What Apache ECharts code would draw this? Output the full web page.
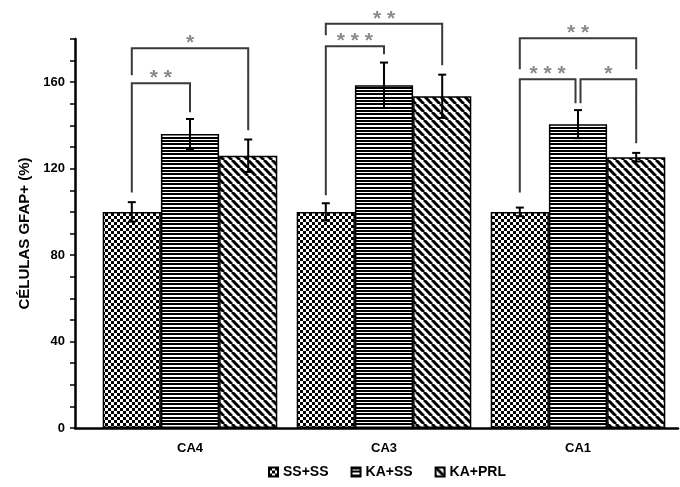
<!DOCTYPE html>
<html>
<head>
<meta charset="utf-8">
<script src="https://cdn.jsdelivr.net/npm/echarts@6/dist/echarts.min.js"></script>
<style>html,body{margin:0;padding:0;background:#fff;}#c{width:680px;height:487px;}</style>
</head>
<body>
<div id="c"></div>
<script>
// ---- data ----
var categories = ['CA4', 'CA3', 'CA1'];
var seriesNames = ['SS+SS', 'KA+SS', 'KA+PRL'];
var ssValues = [100, 100, 100];
var ssErrors = [4.5, 4, 2];
var kaSsValues = [136, 158.6, 140.6];
var kaSsErrors = [7, 10.5, 6.5];
var kaPrlValues = [126, 153.5, 125.3];
var kaPrlErrors = [7.5, 10, 2];
var yTickLabels = [0, 40, 80, 120, 160];
// significance brackets: [category, fromSeries, toSeries, topLevel, leftLegEnd, rightLegEnd]
var bracketLevels = [
  [0, 0, 2, 175.7, 163.2, 137.8],
  [0, 0, 1, 159.5, 109, 146.1],
  [1, 0, 2, 187, 181.7, 167.9],
  [1, 0, 1, 176.6, 107.7, 173],
  [2, 0, 2, 180.3, 166, 166],
  [2, 0, 1, 161.4, 109, 150.3],
  [2, 1, 2, 161.4, 150.3, 131.8]
];
var bracketStars = ['*', '**', '**', '***', '**', '***', '*'];

// ---- patterns ----
function mkCanvas(w, h) { var c = document.createElement('canvas'); c.width = w; c.height = h; return c; }
var checker = mkCanvas(6, 6);
(function () { var g = checker.getContext('2d'); g.fillStyle = '#fff'; g.fillRect(0, 0, 6, 6); g.fillStyle = '#000'; g.fillRect(0, 0, 3, 3); g.fillRect(3, 3, 3, 3); })();
var hstripe = mkCanvas(4, 10);
(function () { var g = hstripe.getContext('2d'); g.fillStyle = '#fff'; g.fillRect(0, 0, 4, 10); g.fillStyle = '#000'; [0, 1, 3, 4, 7, 8].forEach(function (r) { g.fillRect(0, r, 4, 1); }); })();
var diag = mkCanvas(8, 8);
(function () { var g = diag.getContext('2d'); g.fillStyle = '#fff'; g.fillRect(0, 0, 8, 8); g.strokeStyle = '#000'; g.lineWidth = 3; [-8, 0, 8].forEach(function (x0) { g.beginPath(); g.moveTo(x0, 0); g.lineTo(x0 + 8, 8); g.stroke(); }); })();
var patterns = [checker, hstripe, diag];

var FONT = 'Liberation Sans, Arial, sans-serif';
var GAP = 0.1;
var valuesList = [ssValues, kaSsValues, kaPrlValues];
var errorsList = [ssErrors, kaSsErrors, kaPrlErrors];

function barOffset(api, s) {
  var bw = api.size([1, 0])[0] * (1 - GAP) / 3;
  return { dx: (s - 1) * bw, bw: bw };
}

var series = [];
seriesNames.forEach(function (name, s) {
  series.push({
    name: name, type: 'bar', xAxisIndex: 1, yAxisIndex: 1,
    barGap: 0, barCategoryGap: (GAP * 100) + '%',
    data: valuesList[s],
    itemStyle: { color: { image: patterns[s], repeat: 'repeat' }, borderColor: '#000', borderWidth: 1.5 },
    z: 2
  });
});
seriesNames.forEach(function (name, s) {
  series.push({
    type: 'custom', xAxisIndex: 1, yAxisIndex: 1, z: 5, silent: true,
    data: categories.map(function (c, i) { return [i, valuesList[s][i], errorsList[s][i]]; }),
    encode: { x: 0, y: 1 },
    renderItem: function (params, api) {
      var c = api.value(0), v = api.value(1), e = api.value(2);
      var o = barOffset(api, s);
      var t = api.coord([c, v + e]), b = api.coord([c, v - e]);
      var x = t[0] + o.dx;
      var st = { stroke: '#000', lineWidth: 2 };
      return { type: 'group', children: [
        { type: 'line', shape: { x1: x, y1: t[1], x2: x, y2: b[1] }, style: st },
        { type: 'line', shape: { x1: x - 4, y1: t[1], x2: x + 4, y2: t[1] }, style: st },
        { type: 'line', shape: { x1: x - 4, y1: b[1], x2: x + 4, y2: b[1] }, style: st }
      ] };
    }
  });
});

function sharedNudge(idx, cat, ser, top) {
  for (var j = 0; j < bracketLevels.length; j++) {
    if (j === idx) continue;
    var b = bracketLevels[j];
    if (b[0] === cat && b[3] === top) {
      if (b[1] === ser) return -1;
      if (b[2] === ser) return 1;
    }
  }
  return 0;
}

series.push({
  type: 'custom', xAxisIndex: 1, yAxisIndex: 1, z: 6, silent: true, clip: false,
  data: bracketLevels.map(function (b, i) { return b.concat([i]); }),
  encode: { x: 0, y: 3 },
  renderItem: function (params, api) {
    var c = api.value(0), sf = api.value(1), stt = api.value(2), top = api.value(3), lb = api.value(4), rb = api.value(5), idx = api.value(6);
    var of = barOffset(api, sf), ot = barOffset(api, stt);
    var pTop = api.coord([c, top]);
    var xl = pTop[0] + of.dx + 2.5 * sharedNudge(idx, c, sf, top);
    var xr = pTop[0] + ot.dx + 2.5 * sharedNudge(idx, c, stt, top);
    var yl = api.coord([c, lb])[1], yr = api.coord([c, rb])[1];
    return { type: 'group', children: [
      { type: 'polyline', shape: { points: [[xl, yl], [xl, pTop[1]], [xr, pTop[1]], [xr, yr]] }, style: { stroke: '#3a3a3a', lineWidth: 2, fill: null } },
      { type: 'text', x: (xl + xr) / 2, y: pTop[1] - 5, style: { text: bracketStars[idx].split('').join(' '), fill: '#8a8a8a', font: 'bold 21px ' + FONT, textAlign: 'center', textVerticalAlign: 'middle' } }
    ] };
  }
});

var chart = echarts.init(document.getElementById('c'));
chart.setOption({
  backgroundColor: '#fff',
  animation: false,
  grid: [
    { left: 75, right: 2, top: 39, bottom: 59 },
    { left: 93, right: 5, top: 39, bottom: 59 }
  ],
  xAxis: [
    { type: 'value', gridIndex: 0, min: 0, max: 1, axisLine: { show: true, lineStyle: { color: '#000', width: 2.5 } }, axisTick: { show: false }, axisLabel: { show: false }, splitLine: { show: false } },
    { type: 'category', gridIndex: 1, data: categories, axisLine: { show: false }, axisTick: { show: false },
      axisLabel: { margin: 14, color: '#000', fontWeight: 'bold', fontSize: 13, fontFamily: FONT } }
  ],
  yAxis: [
    { type: 'value', gridIndex: 0, min: 0, max: 180, interval: 10,
      name: 'CÉLULAS GFAP+ (%)', nameLocation: 'middle', nameGap: 38, nameRotate: 90,
      nameTextStyle: { color: '#000', fontWeight: 'bold', fontSize: 15, fontFamily: FONT },
      axisLine: { show: true, lineStyle: { color: '#000', width: 2.5 } },
      axisTick: { show: true, length: 5, lineStyle: { color: '#000', width: 1.5 } },
      axisLabel: { color: '#000', fontWeight: 'bold', fontSize: 13, fontFamily: FONT, margin: 10,
        formatter: function (v) { return yTickLabels.indexOf(v) >= 0 ? String(v) : ''; } },
      splitLine: { show: false } },
    { type: 'value', gridIndex: 1, min: 0, max: 180, show: false, splitLine: { show: false } }
  ],
  legend: {
    data: seriesNames, left: 263, top: 460, icon: 'rect', itemWidth: 9, itemHeight: 9, itemGap: 22,
    textStyle: { color: '#000', fontWeight: 'bold', fontSize: 14, fontFamily: FONT }
  },
  series: series
});
</script>
</body>
</html>
